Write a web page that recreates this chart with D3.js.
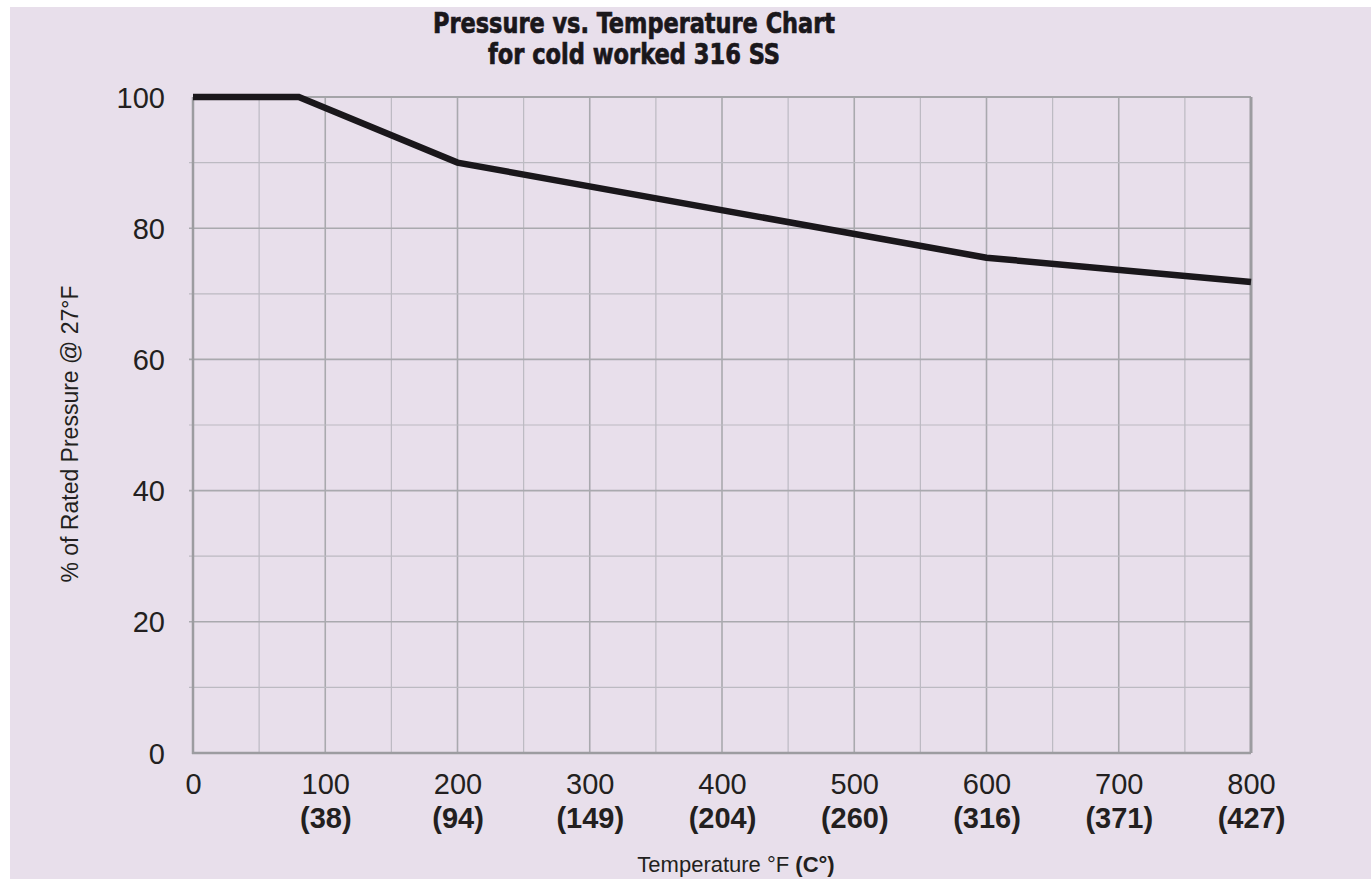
<!DOCTYPE html>
<html>
<head>
<meta charset="utf-8">
<script src="https://cdn.jsdelivr.net/npm/d3@7"></script>
<style>
  html, body { margin: 0; padding: 0; background: #ffffff; }
  svg { display: block; }
</style>
</head>
<body>
<svg id="chart" width="1371" height="879"></svg>
<script>
// Rated pressure derating for cold worked 316 stainless steel
const tempF = [0, 80, 200, 600, 800];
const pctRated = [100, 100, 90, 75.5, 71.8];

const xTickValues = [0, 100, 200, 300, 400, 500, 600, 700, 800];
const xTickCelsius = ["", "(38)", "(94)", "(149)", "(204)", "(260)", "(316)", "(371)", "(427)"];
const yTickValues = [0, 20, 40, 60, 80, 100];

const titleLines = ["Pressure vs. Temperature Chart", "for cold worked 316 SS"];
const yTitle = "% of Rated Pressure @ 27°F";

const W = 1371, H = 879;
const margin = { top: 97, right: 120, bottom: 126, left: 193 };
const innerW = W - margin.left - margin.right;
const innerH = H - margin.top - margin.bottom;

const svg = d3.select("#chart");

// panel background with a thin white strip on the top and left edge
svg.append("rect").attr("x", 10).attr("y", 7).attr("width", W - 10).attr("height", H - 7)
  .attr("fill", "#e8dfeb");

const x = d3.scaleLinear().domain([0, 800]).range([0, innerW]);
const y = d3.scaleLinear().domain([0, 100]).range([innerH, 0]);

const g = svg.append("g").attr("transform", `translate(${margin.left},${margin.top})`);

// grid: every 50 °F and every 10 %
const gridX = d3.range(50, 800, 50);
const gridY = d3.range(10, 100, 10);

g.append("g").selectAll("line").data(gridX).join("line")
  .attr("x1", d => x(d)).attr("x2", d => x(d))
  .attr("y1", 0).attr("y2", innerH)
  .attr("stroke", d => d % 100 === 0 ? "#a9a9ae" : "#bcbac2")
  .attr("stroke-width", d => d % 100 === 0 ? 1.6 : 1.2);

g.append("g").selectAll("line").data(gridY).join("line")
  .attr("x1", -4).attr("x2", innerW)
  .attr("y1", d => y(d)).attr("y2", d => y(d))
  .attr("stroke", d => d % 20 === 0 ? "#a9a9ae" : "#bcbac2")
  .attr("stroke-width", d => d % 20 === 0 ? 1.6 : 1.2);

// frame
g.append("line").attr("x1", 0).attr("x2", innerW).attr("y1", 0).attr("y2", 0)
  .attr("stroke", "#a4a4a8").attr("stroke-width", 2);
g.append("line").attr("x1", innerW).attr("x2", innerW).attr("y1", 0).attr("y2", innerH)
  .attr("stroke", "#9c9ca0").attr("stroke-width", 3);
g.append("line").attr("x1", 0).attr("x2", 0).attr("y1", 0).attr("y2", innerH + 1)
  .attr("stroke", "#9c9ca0").attr("stroke-width", 2.5);
g.append("line").attr("x1", -1).attr("x2", innerW).attr("y1", innerH).attr("y2", innerH)
  .attr("stroke", "#9c9ca0").attr("stroke-width", 2.5);

// y axis labels
const yAxis = g.append("g")
  .call(d3.axisLeft(y).tickValues(yTickValues).tickSize(0).tickPadding(28).tickFormat(d3.format("d")));
yAxis.select(".domain").remove();
yAxis.selectAll("text")
  .attr("font-family", "'Liberation Sans', Arial, Helvetica, sans-serif")
  .attr("font-size", 29).attr("fill", "#231f20").attr("dy", "0.35em");

// x axis labels: °F on the first row, °C in bold below
const xAxis = g.append("g").attr("transform", `translate(0,${innerH})`)
  .call(d3.axisBottom(x).tickValues(xTickValues).tickSize(0).tickPadding(20).tickFormat(d3.format("d")));
xAxis.select(".domain").remove();
xAxis.selectAll("text")
  .attr("font-family", "'Liberation Sans', Arial, Helvetica, sans-serif")
  .attr("font-size", 29).attr("fill", "#231f20");
xAxis.selectAll(".tick").append("text")
  .attr("y", 75).attr("fill", "#231f20")
  .attr("font-family", "'Liberation Sans', Arial, Helvetica, sans-serif")
  .attr("font-size", 29).attr("font-weight", "bold")
  .attr("text-anchor", "middle")
  .text(d => xTickCelsius[xTickValues.indexOf(d)]);

// the derating curve
const line = d3.line().x(d => x(d[0])).y(d => y(d[1]));
g.append("path")
  .datum(d3.zip(tempF, pctRated))
  .attr("d", line)
  .attr("fill", "none")
  .attr("stroke", "#1a171b")
  .attr("stroke-width", 6.5)
  .attr("stroke-linejoin", "miter");

// axis titles
const xt = svg.append("text")
  .attr("x", 736).attr("y", 872)
  .attr("text-anchor", "middle")
  .attr("font-family", "'Liberation Sans', Arial, Helvetica, sans-serif")
  .attr("font-size", 22).attr("fill", "#231f20");
xt.append("tspan").text("Temperature °F ");
xt.append("tspan").attr("font-weight", "bold").text("(C°)");

svg.append("text")
  .attr("transform", "translate(78,434) rotate(-90)")
  .attr("text-anchor", "middle")
  .attr("font-family", "'Liberation Sans', Arial, Helvetica, sans-serif")
  .attr("font-size", 23).attr("fill", "#231f20")
  .text(yTitle);

// chart title
const titleWidths = [402, 292];
svg.append("g").selectAll("text").data(titleLines).join("text")
  .attr("x", 634).attr("y", (d, i) => 33 + i * 31)
  .attr("text-anchor", "middle")
  .attr("font-family", "'DejaVu Sans Condensed', 'Liberation Sans Narrow', 'DejaVu Sans', sans-serif")
  .attr("font-stretch", "condensed")
  .attr("font-weight", "bold")
  .attr("font-size", 29).attr("fill", "#1a171b")
  .attr("stroke", "#1a171b").attr("stroke-width", 0.7)
  .attr("textLength", (d, i) => titleWidths[i])
  .attr("lengthAdjust", "spacingAndGlyphs")
  .text(d => d);
</script>
</body>
</html>
